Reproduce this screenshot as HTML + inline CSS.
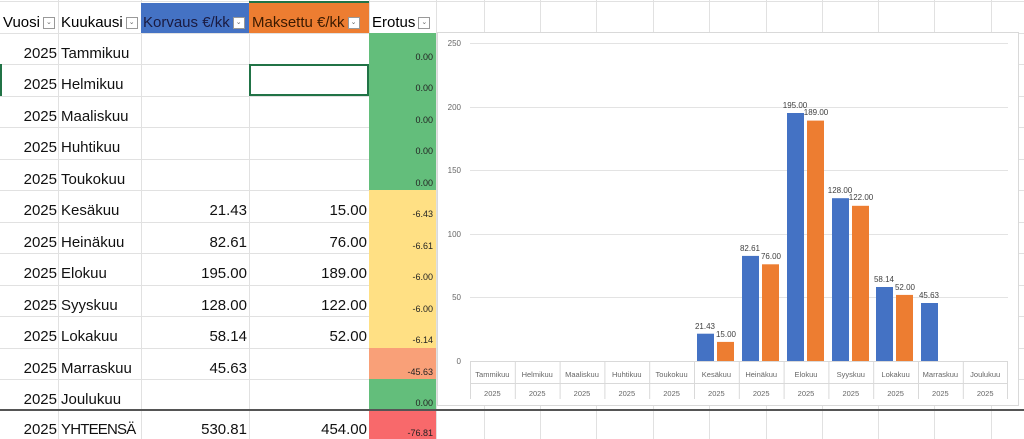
<!DOCTYPE html>
<html><head><meta charset="utf-8"><style>
body{margin:0;width:1024px;height:439px;overflow:hidden;background:#fff;font-family:"Liberation Sans",Calibri,sans-serif;position:relative}
.a{position:absolute}
.c{position:absolute;font-size:15px;line-height:18px;color:#111;white-space:nowrap}
.r{text-align:right}
.e{position:absolute;left:369px;width:67px;font-size:9px;text-align:right;color:#222}
.h{position:absolute;top:3px;height:30px;font-size:15px;line-height:40px;white-space:nowrap}
.dd{display:inline-block;width:10px;height:10px;border:1px solid #999;vertical-align:middle;margin-left:3px;background:#fff;font-size:7px;line-height:9px;text-align:center;color:#666}
</style></head><body>
<svg class="a" style="left:0;top:0" width="1024" height="439">
<g stroke="#e1e1e1" stroke-width="1">
<line x1="0" y1="64.5" x2="1024" y2="64.5"/><line x1="0" y1="96.5" x2="1024" y2="96.5"/><line x1="0" y1="127.5" x2="1024" y2="127.5"/><line x1="0" y1="159.5" x2="1024" y2="159.5"/><line x1="0" y1="190.5" x2="1024" y2="190.5"/><line x1="0" y1="222.5" x2="1024" y2="222.5"/><line x1="0" y1="253.5" x2="1024" y2="253.5"/><line x1="0" y1="285.5" x2="1024" y2="285.5"/><line x1="0" y1="316.5" x2="1024" y2="316.5"/><line x1="0" y1="348.5" x2="1024" y2="348.5"/><line x1="0" y1="379.5" x2="1024" y2="379.5"/><line x1="0" y1="1.5" x2="1024" y2="1.5"/><line x1="0" y1="33.5" x2="1024" y2="33.5"/>
<line x1="58.5" y1="0" x2="58.5" y2="439"/><line x1="141.5" y1="0" x2="141.5" y2="439"/><line x1="249.5" y1="0" x2="249.5" y2="439"/><line x1="369.5" y1="0" x2="369.5" y2="439"/><line x1="436.5" y1="0" x2="436.5" y2="439"/>
<line x1="484.5" y1="405" x2="484.5" y2="439"/><line x1="540.5" y1="405" x2="540.5" y2="439"/><line x1="596.5" y1="405" x2="596.5" y2="439"/><line x1="653.5" y1="405" x2="653.5" y2="439"/><line x1="709.5" y1="405" x2="709.5" y2="439"/><line x1="766.5" y1="405" x2="766.5" y2="439"/><line x1="822.5" y1="405" x2="822.5" y2="439"/><line x1="878.5" y1="405" x2="878.5" y2="439"/><line x1="934.5" y1="405" x2="934.5" y2="439"/><line x1="991.5" y1="405" x2="991.5" y2="439"/>
<line x1="484.5" y1="0" x2="484.5" y2="32"/><line x1="540.5" y1="0" x2="540.5" y2="32"/><line x1="596.5" y1="0" x2="596.5" y2="32"/><line x1="653.5" y1="0" x2="653.5" y2="32"/><line x1="709.5" y1="0" x2="709.5" y2="32"/><line x1="766.5" y1="0" x2="766.5" y2="32"/><line x1="822.5" y1="0" x2="822.5" y2="32"/><line x1="878.5" y1="0" x2="878.5" y2="32"/><line x1="934.5" y1="0" x2="934.5" y2="32"/><line x1="991.5" y1="0" x2="991.5" y2="32"/>
</g>
</svg>
<div class="a" style="left:141px;top:3px;width:108px;height:30px;background:#4472c4"></div>
<div class="a" style="left:249px;top:1px;width:120px;height:32px;background:#ed7d31;border-top:2px solid #217346;box-sizing:border-box"></div>
<div class="h" style="left:3px">Vuosi<span class="dd">⌄</span></div>
<div class="h" style="left:61px">Kuukausi<span class="dd">⌄</span></div>
<div class="h" style="left:143px;color:#1a1a40">Korvaus €/kk<span class="dd">⌄</span></div>
<div class="h" style="left:252px;color:#3a1a00">Maksettu €/kk<span class="dd">⌄</span></div>
<div class="h" style="left:372px">Erotus<span class="dd">⌄</span></div>
<div class="a" style="left:369px;top:33px;width:67px;height:157px;background:#63be7b"></div>
<div class="a" style="left:369px;top:190px;width:67px;height:158px;background:#ffe084"></div>
<div class="a" style="left:369px;top:348px;width:67px;height:31px;background:#f9a078"></div>
<div class="a" style="left:369px;top:379px;width:67px;height:31px;background:#63be7b"></div>
<div class="a" style="left:369px;top:410px;width:67px;height:29px;background:#f8696b"></div>
<div class="a" style="left:0;top:409px;width:1024px;height:2px;background:#555"></div>
<div class="a" style="left:249px;top:64px;width:120px;height:32px;border:2px solid #217346;box-sizing:border-box"></div>
<div class="a" style="left:0;top:64px;width:2px;height:32px;background:#217346"></div>
<div class="c r" style="left:0;width:57px;top:45px">2025</div><div class="c" style="left:61px;top:45px">Tammikuu</div><div class="e" style="top:52px;width:64px">0.00</div>
<div class="c r" style="left:0;width:57px;top:76px">2025</div><div class="c" style="left:61px;top:76px">Helmikuu</div><div class="e" style="top:83px;width:64px">0.00</div>
<div class="c r" style="left:0;width:57px;top:108px">2025</div><div class="c" style="left:61px;top:108px">Maaliskuu</div><div class="e" style="top:115px;width:64px">0.00</div>
<div class="c r" style="left:0;width:57px;top:139px">2025</div><div class="c" style="left:61px;top:139px">Huhtikuu</div><div class="e" style="top:146px;width:64px">0.00</div>
<div class="c r" style="left:0;width:57px;top:171px">2025</div><div class="c" style="left:61px;top:171px">Toukokuu</div><div class="e" style="top:178px;width:64px">0.00</div>
<div class="c r" style="left:0;width:57px;top:202px">2025</div><div class="c" style="left:61px;top:202px">Kesäkuu</div><div class="c r" style="left:141px;width:106px;top:202px">21.43</div><div class="c r" style="left:249px;width:118px;top:202px">15.00</div><div class="e" style="top:209px;width:64px">-6.43</div>
<div class="c r" style="left:0;width:57px;top:234px">2025</div><div class="c" style="left:61px;top:234px">Heinäkuu</div><div class="c r" style="left:141px;width:106px;top:234px">82.61</div><div class="c r" style="left:249px;width:118px;top:234px">76.00</div><div class="e" style="top:241px;width:64px">-6.61</div>
<div class="c r" style="left:0;width:57px;top:265px">2025</div><div class="c" style="left:61px;top:265px">Elokuu</div><div class="c r" style="left:141px;width:106px;top:265px">195.00</div><div class="c r" style="left:249px;width:118px;top:265px">189.00</div><div class="e" style="top:272px;width:64px">-6.00</div>
<div class="c r" style="left:0;width:57px;top:297px">2025</div><div class="c" style="left:61px;top:297px">Syyskuu</div><div class="c r" style="left:141px;width:106px;top:297px">128.00</div><div class="c r" style="left:249px;width:118px;top:297px">122.00</div><div class="e" style="top:304px;width:64px">-6.00</div>
<div class="c r" style="left:0;width:57px;top:328px">2025</div><div class="c" style="left:61px;top:328px">Lokakuu</div><div class="c r" style="left:141px;width:106px;top:328px">58.14</div><div class="c r" style="left:249px;width:118px;top:328px">52.00</div><div class="e" style="top:335px;width:64px">-6.14</div>
<div class="c r" style="left:0;width:57px;top:360px">2025</div><div class="c" style="left:61px;top:360px">Marraskuu</div><div class="c r" style="left:141px;width:106px;top:360px">45.63</div><div class="e" style="top:367px;width:64px">-45.63</div>
<div class="c r" style="left:0;width:57px;top:391px">2025</div><div class="c" style="left:61px;top:391px">Joulukuu</div><div class="e" style="top:398px;width:64px">0.00</div>
<div class="c r" style="left:0;width:57px;top:421px">2025</div><div class="c" style="left:61px;top:421px;letter-spacing:-0.8px">YHTEENSÄ</div><div class="c r" style="left:141px;width:106px;top:421px">530.81</div><div class="c r" style="left:249px;width:118px;top:421px">454.00</div><div class="e" style="top:428px;width:64px">-76.81</div>
<svg class="a" style="left:0;top:0" width="1024" height="439" font-family="Liberation Sans, sans-serif">
<rect x="437.5" y="32.5" width="581" height="373" fill="#fff" stroke="#d9d9d9"/>
<g stroke="#e3e3e3"><line x1="470" y1="43.5" x2="1008" y2="43.5"/><line x1="470" y1="107.5" x2="1008" y2="107.5"/><line x1="470" y1="170.5" x2="1008" y2="170.5"/><line x1="470" y1="234.5" x2="1008" y2="234.5"/><line x1="470" y1="297.5" x2="1008" y2="297.5"/></g>
<g font-size="8" fill="#666" text-anchor="end"><text x="461" y="46">250</text><text x="461" y="110">200</text><text x="461" y="173">150</text><text x="461" y="237">100</text><text x="461" y="300">50</text><text x="461" y="364">0</text></g>
<g fill="#4472c4"><rect x="697" y="333.7" width="17" height="27.3"/><rect x="742" y="255.9" width="17" height="105.1"/><rect x="787" y="113" width="17" height="248"/><rect x="832" y="198.2" width="17" height="162.8"/><rect x="876" y="287" width="17" height="74"/><rect x="921" y="303" width="17" height="58"/></g>
<g fill="#ed7d31"><rect x="717" y="341.9" width="17" height="19.1"/><rect x="762" y="264.3" width="17" height="96.7"/><rect x="807" y="120.6" width="17" height="240.4"/><rect x="852" y="205.8" width="17" height="155.2"/><rect x="896" y="294.9" width="17" height="66.1"/></g>
<g font-size="8" fill="#404040" text-anchor="middle"><text x="705" y="329">21.43</text><text x="726" y="337">15.00</text><text x="750" y="251">82.61</text><text x="771" y="259">76.00</text><text x="795" y="108">195.00</text><text x="816" y="115">189.00</text><text x="840" y="193">128.00</text><text x="861" y="200">122.00</text><text x="884" y="282">58.14</text><text x="905" y="290">52.00</text><text x="929" y="298">45.63</text></g>
<g stroke="#d9d9d9"><line x1="470" y1="361.5" x2="1008" y2="361.5"/><line x1="470" y1="383.5" x2="1008" y2="383.5"/><line x1="470.5" y1="361" x2="470.5" y2="399"/><line x1="515.3" y1="361" x2="515.3" y2="399"/><line x1="560.1" y1="361" x2="560.1" y2="399"/><line x1="604.9" y1="361" x2="604.9" y2="399"/><line x1="649.7" y1="361" x2="649.7" y2="399"/><line x1="694.5" y1="361" x2="694.5" y2="399"/><line x1="739.3" y1="361" x2="739.3" y2="399"/><line x1="784.1" y1="361" x2="784.1" y2="399"/><line x1="828.9" y1="361" x2="828.9" y2="399"/><line x1="873.7" y1="361" x2="873.7" y2="399"/><line x1="918.5" y1="361" x2="918.5" y2="399"/><line x1="963.3" y1="361" x2="963.3" y2="399"/><line x1="1007.5" y1="361" x2="1007.5" y2="399"/></g>
<g font-size="7.5" fill="#666" text-anchor="middle">
<text x="492.4" y="377">Tammikuu</text><text x="537.2" y="377">Helmikuu</text><text x="582" y="377">Maaliskuu</text><text x="626.8" y="377">Huhtikuu</text><text x="671.6" y="377">Toukokuu</text><text x="716.4" y="377">Kesäkuu</text><text x="761.2" y="377">Heinäkuu</text><text x="806" y="377">Elokuu</text><text x="850.8" y="377">Syyskuu</text><text x="895.6" y="377">Lokakuu</text><text x="940.4" y="377">Marraskuu</text><text x="985.2" y="377">Joulukuu</text>
<text x="492.4" y="396">2025</text><text x="537.2" y="396">2025</text><text x="582" y="396">2025</text><text x="626.8" y="396">2025</text><text x="671.6" y="396">2025</text><text x="716.4" y="396">2025</text><text x="761.2" y="396">2025</text><text x="806" y="396">2025</text><text x="850.8" y="396">2025</text><text x="895.6" y="396">2025</text><text x="940.4" y="396">2025</text><text x="985.2" y="396">2025</text>
</g>
</svg>
</body></html>
